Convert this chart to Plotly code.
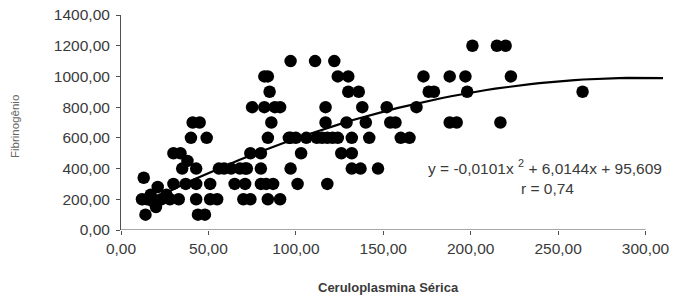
import numpy as np
import plotly.graph_objects as go

# Ceruloplasmina Sérica (x) vs Fibrinogênio (y)
ceruloplasmina = [13, 12, 14, 18, 20, 21, 23, 26, 28, 30, 33, 30, 34, 35, 37, 38, 40, 41, 43, 43,
                  43, 45, 44, 48, 49, 51, 51, 55, 56, 59, 63, 65, 68, 71, 71, 70, 74, 74, 75, 80,
                  80, 80, 82, 84, 85, 82, 88, 86, 84, 83, 87, 84, 91, 91, 97, 97, 96, 97, 101, 103,
                  106, 111, 112, 117, 117, 118, 118, 122, 124, 124, 130, 130, 136, 126, 132, 129, 132, 132, 137, 138,
                  140, 142, 147, 152, 154, 157, 160, 165, 169, 173, 176, 179, 188, 188, 192, 197, 198, 201, 215, 220,
                  223, 217, 264, 100, 115, 121, 72, 15, 17]
fibrinogenio = [340, 200, 100, 190, 150, 280, 200, 230, 200, 300, 200, 500, 500, 400, 300, 450, 600, 700, 400, 300,
                200, 700, 100, 100, 600, 300, 200, 200, 400, 400, 400, 300, 400, 400, 300, 200, 200, 500, 800, 500,
                400, 300, 1000, 1000, 900, 800, 800, 700, 600, 300, 300, 200, 200, 800, 1100, 600, 600, 400, 300, 500,
                600, 1100, 600, 700, 800, 600, 300, 1100, 600, 1000, 1000, 900, 900, 500, 500, 700, 600, 400, 400, 800,
                700, 600, 400, 800, 700, 700, 600, 600, 800, 1000, 900, 900, 1000, 700, 700, 1000, 900, 1200, 1200, 1200,
                1000, 700, 900, 600, 600, 600, 400, 200, 230]

# Trendline coefficients (as printed on the chart)
coef_a, coef_b, coef_c = -0.0101, 6.0144, 95.609
trend_x_end = 310

x_ticks = [0, 50, 100, 150, 200, 250, 300]
x_tick_labels = ["0,00", "50,00", "100,00", "150,00", "200,00", "250,00", "300,00"]
y_ticks = [0, 200, 400, 600, 800, 1000, 1200, 1400]
y_tick_labels = ["0,00", "200,00", "400,00", "600,00", "800,00", "1000,00", "1200,00", "1400,00"]

tx = np.linspace(min(ceruloplasmina), trend_x_end, 60)
ty = coef_a * tx ** 2 + coef_b * tx + coef_c

W, H = 675, 301
ML, MR, MT, MB = 121, 12, 15, 71
PW, PH = W - ML - MR, H - MT - MB


def px_to_paper(px, py):
    return (px - ML) / PW, 1 - (py - MT) / PH


fig = go.Figure()
fig.add_trace(go.Scatter(x=ceruloplasmina, y=fibrinogenio, mode="markers",
                         marker=dict(color="black", size=12.5, line=dict(width=0)),
                         showlegend=False, cliponaxis=False))
fig.add_trace(go.Scatter(x=tx, y=ty, mode="lines", line=dict(color="black", width=2.2),
                         showlegend=False))

axis_col = "#505050"
text_col = "#3a3a3a"
font_family = "Liberation Sans, Arial, sans-serif"

fig.add_shape(type="line", xref="x", yref="y", x0=0, x1=300, y0=0, y1=0,
              line=dict(color=axis_col, width=1))

fig.update_layout(
    width=W, height=H,
    margin=dict(l=ML, r=MR, t=MT, b=MB, autoexpand=False),
    paper_bgcolor="white", plot_bgcolor="white",
    font=dict(family=font_family, color=text_col),
    xaxis=dict(range=[0, trend_x_end], tickvals=x_ticks, ticktext=x_tick_labels,
               showgrid=False, zeroline=False, showline=False, automargin=False,
               ticks="outside", ticklen=4, tickcolor=axis_col,
               tickfont=dict(size=15.5, color=text_col)),
    yaxis=dict(range=[0, 1400], tickvals=y_ticks, ticktext=y_tick_labels,
               showgrid=False, zeroline=False, showline=True, linecolor=axis_col, linewidth=1,
               automargin=False, ticks="outside", ticklen=4, tickcolor=axis_col,
               ticklabelstandoff=3,
               tickfont=dict(size=15.5, color=text_col)),
)

ex, ey = px_to_paper(664, 167)
fig.add_annotation(x=ex, y=ey, xref="paper", yref="paper", showarrow=False,
                   text="y = -0,0101x&nbsp;<sup>2</sup> + 6,0144x + 95,609",
                   font=dict(size=15.5, color=text_col), xanchor="right", yanchor="middle")
rx, ry = px_to_paper(547, 188)
fig.add_annotation(x=rx, y=ry, xref="paper", yref="paper", showarrow=False, text="r = 0,74",
                   font=dict(size=15.5, color=text_col), xanchor="center", yanchor="middle")
tx_, ty_ = px_to_paper(388, 287)
fig.add_annotation(x=tx_, y=ty_, xref="paper", yref="paper", showarrow=False,
                   text="<b>Ceruloplasmina Sérica</b>",
                   font=dict(size=13, color=text_col), xanchor="center", yanchor="middle")
yx, yy = px_to_paper(15, 127)
fig.add_annotation(x=yx, y=yy, xref="paper", yref="paper", showarrow=False,
                   text="Fibrinogênio", textangle=-90,
                   font=dict(size=11.5, color="#666666"), xanchor="center", yanchor="middle")

fig.write_html("out.html", config={"displayModeBar": False},
               post_script="document.body.style.margin='0';document.body.style.overflow='hidden';")
